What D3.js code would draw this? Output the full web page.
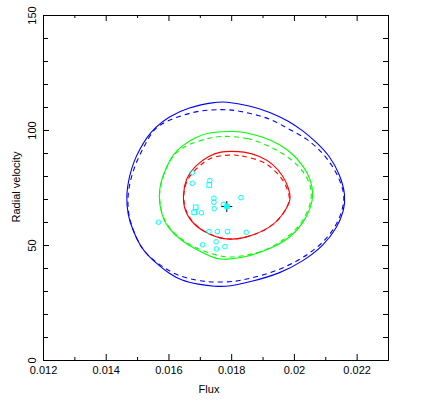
<!DOCTYPE html>
<html><head><meta charset="utf-8">
<script src="https://cdn.jsdelivr.net/npm/d3@7"></script>
<style>
html,body{margin:0;padding:0;background:#fff;}
text{font-family:"Liberation Sans",Arial,sans-serif;font-size:11px;fill:#000;}
</style></head>
<body><svg id="c" width="421" height="404"></svg>
<script>
// ---- data ----
const xDomain = [0.012, 0.023];
const yDomain = [0, 150];
const xMajor = [0.012, 0.014, 0.016, 0.018, 0.020, 0.022];
const xTickLabels = ["0.012", "0.014", "0.016", "0.018", "0.02", "0.022"];
const xMinor = [0.013, 0.015, 0.017, 0.019, 0.021, 0.023];
const yMajor = [0, 50, 100, 150];
const yTickLabels = ["0", "50", "100", "150"];
const yMinor = [10, 20, 30, 40, 60, 70, 80, 90, 110, 120, 130, 140];
const xLabel = "Flux";
const yLabel = "Radial velocity";

// contours (flux, radial velocity)
const blueSolid = [[0.0178,112.4],[0.0186,110.6],[0.01924,107.8],[0.01982,104.0],[0.0203,99.6],[0.02073,94.5],[0.02115,88.6],[0.02147,80.6],[0.02165,71.7],[0.0216,65.0],[0.02138,57.6],[0.02094,49.6],[0.0203,43.0],[0.01956,37.6],[0.0186,33.9],[0.01796,32.0],[0.01748,31.9],[0.01695,32.9],[0.01642,34.5],[0.016,37.8],[0.01568,41.3],[0.01536,45.2],[0.01509,49.6],[0.01485,57.0],[0.0147,63.0],[0.01465,71.7],[0.01474,79.4],[0.0149,86.6],[0.01509,91.8],[0.01531,96.8],[0.01557,101.1],[0.016,105.7],[0.01663,109.9],[0.01748,112.1]];
const blueDashed = [[0.0177,109.0],[0.01818,108.6],[0.01892,106.2],[0.01934,104.3],[0.01988,100.0],[0.02041,96.4],[0.02094,89.9],[0.02136,81.9],[0.0216,73.2],[0.0216,68.5],[0.02147,61.6],[0.02115,54.3],[0.02073,48.6],[0.02009,42.7],[0.01934,38.1],[0.0186,35.5],[0.01812,34.0],[0.01748,33.8],[0.01694,34.3],[0.01621,37.0],[0.01573,41.3],[0.01535,45.2],[0.01509,49.6],[0.01487,56.5],[0.01472,63.0],[0.01469,71.7],[0.01482,80.4],[0.01503,87.8],[0.01525,93.5],[0.01547,99.3],[0.01578,102.9],[0.01626,105.6],[0.01695,108.5]];
const greenSolid = [[0.01796,99.4],[0.01839,99.3],[0.01902,97.0],[0.01956,93.8],[0.01998,89.5],[0.0203,84.3],[0.02053,79.0],[0.02063,71.7],[0.02054,66.5],[0.02032,59.8],[0.0199,53.2],[0.01924,48.2],[0.0186,45.2],[0.01796,43.8],[0.01764,43.7],[0.01738,44.7],[0.01685,48.2],[0.01642,51.8],[0.016,57.0],[0.01577,63.0],[0.01568,71.7],[0.01576,77.5],[0.01592,83.5],[0.01614,89.4],[0.01642,93.1],[0.01685,96.8],[0.01727,99.0]];
const greenDashed = [[0.0178,97.4],[0.0185,96.8],[0.01924,93.0],[0.01988,88.0],[0.02041,80.6],[0.02059,73.2],[0.02052,66.7],[0.0202,58.0],[0.01966,52.0],[0.01902,46.9],[0.01818,44.7],[0.0177,44.6],[0.01685,48.6],[0.01642,52.3],[0.016,57.4],[0.01577,63.5],[0.01569,71.7],[0.01577,77.8],[0.01593,83.7],[0.01613,88.6],[0.01631,91.0],[0.01663,93.8],[0.01738,97.0]];
const redSolid = [[0.01796,90.7],[0.01839,90.7],[0.01892,88.8],[0.01934,85.2],[0.01966,80.0],[0.01984,74.6],[0.0199,70.3],[0.01984,67.9],[0.01963,62.7],[0.01926,57.6],[0.0186,53.6],[0.0179,51.8],[0.01727,54.7],[0.01683,58.4],[0.01651,64.5],[0.01645,71.7],[0.01656,79.3],[0.01685,84.4],[0.01727,88.8],[0.0177,90.7]];
const redDashed = [[0.01796,89.2],[0.01828,89.1],[0.01902,86.6],[0.01934,83.0],[0.01964,78.8],[0.01982,73.5],[0.01987,70.0],[0.01982,67.5],[0.01963,62.7],[0.01926,57.6],[0.0186,53.6],[0.0179,51.8],[0.01727,54.7],[0.01685,58.4],[0.01653,64.5],[0.01646,71.7],[0.01658,78.7],[0.0169,83.3],[0.01717,86.6],[0.01748,88.6]];

// sample points
const circlePts = [[0.01676,81.4],[0.01676,76.8],[0.01732,78.0],[0.01745,70.3],[0.01745,68.6],[0.01775,67.7],[0.01831,70.6],[0.01705,64.0],[0.01746,65.8],[0.01568,59.9],[0.01729,55.8],[0.01756,55.8],[0.01788,55.8],[0.01848,55.5],[0.01709,50.1],[0.01752,51.4],[0.01753,48.3],[0.0178,49.3]];
const squarePts = [[0.0173,76.1],[0.01687,66.4],[0.01682,64.2]];
const bestFit = [0.01786, 66.7];

// ---- drawing ----
const svg = d3.select("#c");
const L = 43, R = 388, T = 15, B = 360;
const x = d3.scaleLinear().domain(xDomain).range([L, R]);
const y = d3.scaleLinear().domain(yDomain).range([B, T]);

const line = d3.line().x(d => x(d[0])).y(d => y(d[1])).curve(d3.curveBasisClosed);
const contours = [
  [blueSolid, "#0000ff", null], [blueDashed, "#0000ff", "5,4"],
  [greenSolid, "#00ff00", null], [greenDashed, "#00ff00", "5,4"],
  [redSolid, "#ff0000", null], [redDashed, "#ff0000", "5,4"]
];
svg.append("g").selectAll("path").data(contours).join("path")
  .attr("d", d => line(d[0])).attr("fill", "none")
  .attr("stroke", d => d[1]).attr("stroke-width", 1.1)
  .attr("stroke-dasharray", d => d[2]);

const pts = svg.append("g").attr("fill", "none").attr("stroke", "#00ffff").attr("stroke-width", 1);
pts.selectAll("circle").data(circlePts).join("circle")
  .attr("cx", d => x(d[0])).attr("cy", d => y(d[1])).attr("r", 2.3);
pts.selectAll("rect").data(squarePts).join("rect")
  .attr("x", d => x(d[0]) - 2.3).attr("y", d => y(d[1]) - 2.3).attr("width", 4.6).attr("height", 4.6);

const bf = svg.append("g").attr("transform", `translate(${x(bestFit[0])},${y(bestFit[1])})`);
bf.append("path").attr("d", "M-5.5,0H5.5M0,-5.5V5.5").attr("stroke", "#000").attr("stroke-width", 1);
bf.append("circle").attr("r", 3).attr("fill", "#00ffff");

// axes
function styleAxis(g) { g.select(".domain").attr("stroke", "#000"); g.selectAll(".tick line").attr("stroke", "#000"); g.selectAll("text").attr("fill", "#000").attr("font-family", null).attr("font-size", null); }

const gb = svg.append("g").attr("transform", `translate(0,${B})`)
  .call(d3.axisBottom(x).tickValues(xMajor).tickFormat((d, i) => xTickLabels[i]).tickSize(-6).tickSizeOuter(0).tickPadding(4));
gb.selectAll("text").attr("y", 13.5).attr("dy", 0);
styleAxis(gb);
svg.append("g").attr("transform", `translate(0,${B})`)
  .call(d3.axisBottom(x).tickValues(xMinor).tickFormat("").tickSize(-3).tickSizeOuter(0)).call(styleAxis);
svg.append("g").attr("transform", `translate(0,${T})`)
  .call(d3.axisTop(x).tickValues(xMajor).tickFormat("").tickSize(-6).tickSizeOuter(0)).call(styleAxis);
svg.append("g").attr("transform", `translate(0,${T})`)
  .call(d3.axisTop(x).tickValues(xMinor).tickFormat("").tickSize(-3).tickSizeOuter(0)).call(styleAxis);

const gl = svg.append("g").attr("transform", `translate(${L},0)`)
  .call(d3.axisLeft(y).tickValues(yMajor).tickFormat((d, i) => yTickLabels[i]).tickSize(-6).tickSizeOuter(0));
gl.selectAll("text").attr("x", 0).attr("dy", 0).attr("text-anchor", "middle").attr("transform", "translate(-7,0) rotate(-90)");
styleAxis(gl);
svg.append("g").attr("transform", `translate(${L},0)`)
  .call(d3.axisLeft(y).tickValues(yMinor).tickFormat("").tickSize(-5).tickSizeOuter(0)).call(styleAxis);
svg.append("g").attr("transform", `translate(${R},0)`)
  .call(d3.axisRight(y).tickValues(yMajor).tickFormat("").tickSize(-6).tickSizeOuter(0)).call(styleAxis);
svg.append("g").attr("transform", `translate(${R},0)`)
  .call(d3.axisRight(y).tickValues(yMinor).tickFormat("").tickSize(-5).tickSizeOuter(0)).call(styleAxis);

svg.append("text").attr("x", 209).attr("y", 392.5).attr("text-anchor", "middle").text(xLabel);
svg.append("text").attr("transform", `translate(20,187) rotate(-90)`).attr("text-anchor", "middle").text(yLabel);
</script></body></html>
